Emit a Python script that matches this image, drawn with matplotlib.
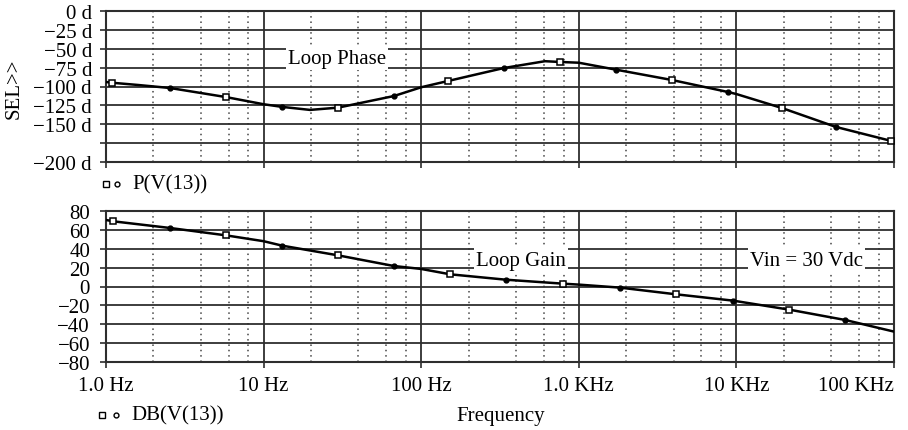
"""
PSpice 风格的环路增益/相位 Bode 图
"""
import matplotlib
matplotlib.use('Agg')
import matplotlib.pyplot as plt
from matplotlib.ticker import FixedLocator, NullFormatter
import numpy as np

plt.rcParams['font.family'] = ['Liberation Serif', 'DejaVu Serif']
plt.rcParams['font.size'] = 15

# 相位曲线 (Hz, 度)
phase_freq = [1.0, 1.09, 1.6, 2.55, 5.77, 10, 13.1, 19.7, 29.7, 67.2, 100, 148,
              335, 610, 760, 1000, 1722, 3900, 8850, 10000, 19450, 42860, 95700, 100000]
phase_deg = [-94, -95, -98, -102, -114, -123.5, -127, -131, -128, -112.6, -101, -92.7,
             -75.5, -66.5, -67.5, -68.5, -77.7, -91.4, -107.3, -110, -128.5, -153.6, -172, -173]
phase_mark_freq = [1.09, 2.55, 5.77, 13.1, 29.7, 67.2, 148, 335, 760, 1722,
                   3900, 8850, 19450, 42860, 95700]
phase_mark_deg = [-95, -102, -114, -127, -128, -112.6, -92.7, -75.5, -67.5, -77.7,
                  -91.4, -107.3, -128.5, -153.6, -172]

# 增益曲线 (Hz, dB)
gain_freq = [1.0, 1.108, 2.55, 5.77, 10, 13.1, 29.7, 67.2, 100, 153, 345, 794,
             1000, 1830, 4150, 9550, 21600, 49100, 100000]
gain_db = [70.5, 69.1, 62, 54.2, 48, 43.3, 33.0, 21.7, 18.6, 12.9, 7.2, 3.0,
           2.0, -1.2, -8.3, -15, -24.5, -35.5, -47.8]
gain_mark_freq = [1.108, 2.55, 5.77, 13.1, 29.7, 67.2, 153, 345, 794, 1830,
                  4150, 9550, 21600, 49100]
gain_mark_db = [69.1, 62, 54.2, 43.3, 33.0, 21.7, 12.9, 7.2, 3.0, -1.2,
                -8.3, -15, -24.5, -35.5]

x_ticks = [1, 10, 100, 1e3, 1e4, 1e5]
x_labels = ['1.0 Hz', '10 Hz', '100 Hz', '1.0 KHz', '10 KHz', '100 KHz']
phase_ticks = [0, -25, -50, -75, -100, -125, -150, -175, -200]
phase_labels = ['0 d', '−25 d', '−50 d', '−75 d', '−100 d', '−125 d', '−150 d', '', '−200 d']
gain_ticks = [80, 60, 40, 20, 0, -20, -40, -60, -80]
gain_labels = ['80', '60', '40', '20', '0', '−20', '−40', '−60', '−80']

W, H = 908, 431
fig = plt.figure(figsize=(W / 100, H / 100), dpi=100)
ax1 = fig.add_axes([106 / W, 1 - 163 / H, 788 / W, 151 / H])
ax2 = fig.add_axes([106 / W, 1 - 363 / H, 788 / W, 151 / H])

gcol = '#2e2e2e'
minor = [m * 10 ** d for d in range(5) for m in (2, 4, 6, 8)]


def style_axes(ax, yticks, ylabels, ylim, pad):
    ax.set_xscale('log')
    ax.set_xlim(1, 1e5)
    ax.set_ylim(*ylim)
    ax.xaxis.set_major_locator(FixedLocator(x_ticks))
    ax.xaxis.set_minor_locator(FixedLocator(minor))
    ax.xaxis.set_minor_formatter(NullFormatter())
    ax.set_yticks(yticks)
    ax.set_yticklabels(ylabels)
    ax.set_axisbelow(True)
    ax.grid(True, which='major', axis='x', color=gcol, linewidth=1.3, linestyle='-')
    ax.grid(True, which='minor', axis='x', color='#444444', linewidth=1.1,
            linestyle=(0, (1, 2.5)))
    ax.grid(True, which='major', axis='y', color=gcol, linewidth=1.3, linestyle='-')
    ax.tick_params(which='major', direction='out', length=4, width=1.2, color=gcol, pad=pad)
    ax.tick_params(which='minor', length=0)
    for s in ax.spines.values():
        s.set_color(gcol)
        s.set_linewidth(1.5)


style_axes(ax1, phase_ticks, phase_labels, (-200, 0), 6)
ax1.set_xticklabels([])
style_axes(ax2, gain_ticks, gain_labels, (-80, 80), 7.5)
ax2.set_xticklabels(x_labels)
ax2.tick_params(axis='x', pad=6)
lbls = ax2.get_xticklabels()
lbls[-1].set_ha('right')
lbls[-1].set_x(1e5)

# 曲线与标记
ax1.plot(phase_freq, phase_deg, color='black', linewidth=1.8, zorder=4)
ax1.plot(phase_mark_freq[0::2], phase_mark_deg[0::2], 's', ms=4.2, mfc='white',
         mec='black', mew=1.1, zorder=5, clip_on=False)
ax1.plot(phase_mark_freq[1::2], phase_mark_deg[1::2], 'o', ms=3.5, color='black', zorder=5)

ax2.plot(gain_freq, gain_db, color='black', linewidth=1.8, zorder=4)
ax2.plot(gain_mark_freq[0::2], gain_mark_db[0::2], 's', ms=4.2, mfc='white',
         mec='black', mew=1.1, zorder=5)
ax2.plot(gain_mark_freq[1::2], gain_mark_db[1::2], 'o', ms=3.5, color='black', zorder=5)

box = dict(facecolor='white', edgecolor='none', pad=1.5)
ax1.text(29.2, -62.5, 'Loop Phase', ha='center', va='center', bbox=box, zorder=3)
ax2.text(430, 28, 'Loop Gain', ha='center', va='center', bbox=box, zorder=3)
ax2.text(28000, 28, 'Vin = 30 Vdc', ha='center', va='center', bbox=box, zorder=3)

# 图例与坐标轴标题
fig.text(14 / W, 1 - 89 / H, 'SEL>>', rotation=90, ha='center', va='center')
fig.text(501 / W, 1 - 417 / H, 'Frequency', ha='center', va='center')

for (sx, dx, tx, ty, name) in [(106, 117, 132, 185, 'P(V(13))'),
                               (102, 116, 131, 416, 'DB(V(13))')]:
    fig.add_artist(plt.Line2D([sx / W], [1 - ty / H], marker='s', ms=4, mfc='white',
                              mec='black', mew=1.0, linestyle='none'))
    fig.add_artist(plt.Line2D([dx / W], [1 - ty / H], marker='o', ms=3.5, mfc='white',
                              mec='black', mew=1.0, linestyle='none'))
    fig.text(tx / W, 1 - ty / H, name, ha='left', va='center')

fig.savefig('out.png', dpi=100)
plt.close(fig)
